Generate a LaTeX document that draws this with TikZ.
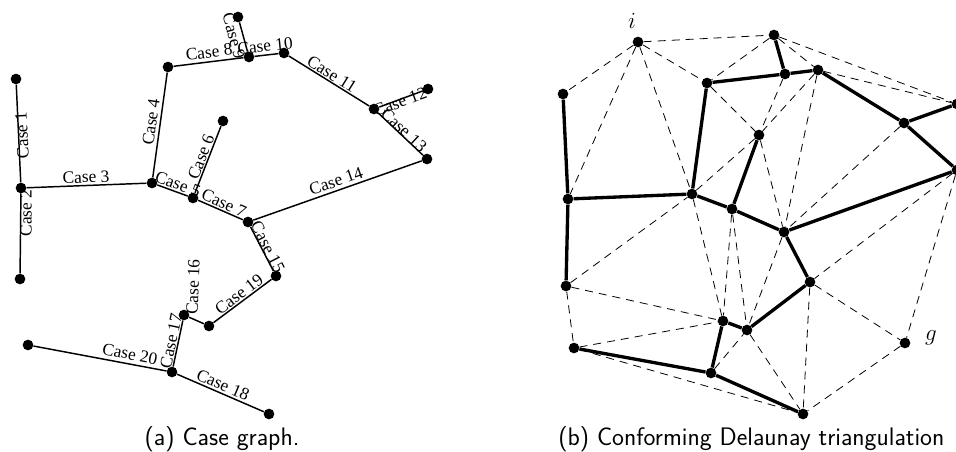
\documentclass[tikz,border=0pt]{standalone}
\usepackage{fontspec}
\usepackage{tikz}
\newfontfamily\casefont{Liberation Serif}
\tikzset{
  graph dot/.style={
    circle,
    fill=black,
    inner sep=0pt,
    minimum size=8pt
  },
  case edge/.style={line width=1.1pt},
  case label/.style={
    font=\fontsize{13}{15}\selectfont\casefont,
    inner sep=0pt
  },
  cdt seg/.style={line width=2.5pt},
  cdt edge/.style={line width=0.6pt, dash pattern=on 6pt off 4.5pt},
  sub caption/.style={
    font=\fontsize{19}{22}\selectfont\sffamily,
    inner sep=0pt
  }
}

\begin{document}
\begin{tikzpicture}[x=0.75pt, y=-0.75pt]
  \useasboundingbox (0,0) rectangle (956,452);

  % (a) case graph: vertices
  \foreach \v/\x/\y in {v1/16/79, v2/21/188, v3/20/279, v4/152/183, v5/168/67,
      v6/238/17, v7/249/57, v8/284/53, v9/374/109, v10/428/89, v11/427/159,
      v12/223/121, v13/193/198, v14/248/222, v15/276/276, v16/209/326,
      v17/184/315, v18/172/372, v19/28/345, v20/269/414}
    \node[graph dot] (\v) at (\x,\y) {};

  % case edges
  \foreach \a/\b in {v1/v2, v2/v3, v2/v4, v4/v5, v4/v13, v13/v12, v13/v14,
      v5/v7, v6/v7, v7/v8, v8/v9, v9/v10, v9/v11, v14/v11, v14/v15,
      v17/v16, v18/v17, v18/v20, v16/v15, v19/v18}
    \draw[case edge] (\a) -- (\b);

  % case labels
  \foreach \n/\x/\y/\r in {1/22/135/93, 2/26/213/90, 3/86/177/2, 4/151/122/82,
      5/178/184/-20, 6/201/157/69, 7/224/203/-24, 8/209/52/7, 9/234/36/-75,
      10/265/46/6, 11/332/74/-32, 12/400/102/20, 13/404/130/-43,
      14/336/181/19, 15/268/247/-63, 16/193/287/88, 17/171/341/78,
      18/223/385/-23, 19/239/294/37, 20/130/354/-11}
    \node[case label, rotate=\r] (lab\n) at (\x,\y) {Case \n};

  \node[sub caption, anchor=base] (capa) at (222,445) {(a) Case graph.};

  % (b) conforming Delaunay triangulation: points
  \foreach \p/\x/\y in {i/638/42, a/774/35, b/563/94, c/707/83, d/785/74,
      e/818/70, f/957/104, h/904/123, j/759/135, k/957/170, l/568/199,
      m/692/194, n/732/209, o/784/232, p/566/286, q/810/282, r/723/321,
      s/747/330, t/574/348, g/905/343, u/711/373, v/803/414}
    \node[graph dot] (\p) at (\x,\y) {};

  % constrained segments
  \foreach \a/\b in {b/l, l/p, l/m, m/c, c/d, a/d, d/e, e/h, h/f, h/k,
      m/n, n/j, n/o, o/k, o/q, q/s, s/r, r/u, u/t, u/v}
    \draw[cdt seg] (\a) -- (\b);

  % triangulation edges
  \foreach \a/\b in {i/b, i/a, i/l, i/m, i/c, a/c, a/e, a/f, e/f, f/k,
      c/j, d/j, e/j, j/m, j/o, e/o, h/o, k/q, k/g, q/g, q/v, g/v, s/v,
      t/v, u/s, t/r, p/r, p/t, p/m, m/r, n/r, n/s, o/s}
    \draw[cdt edge] (\a) -- (\b);

  \node[font=\fontsize{16}{18}\selectfont] (ilab) at (632,21) {$i$};
  \node[font=\fontsize{16}{18}\selectfont] (glab) at (931,338) {$g$};

  \node[sub caption, anchor=base west] (capb) at (558,445)
    {(b) Conforming Delaunay triangulation};
\end{tikzpicture}
\end{document}
